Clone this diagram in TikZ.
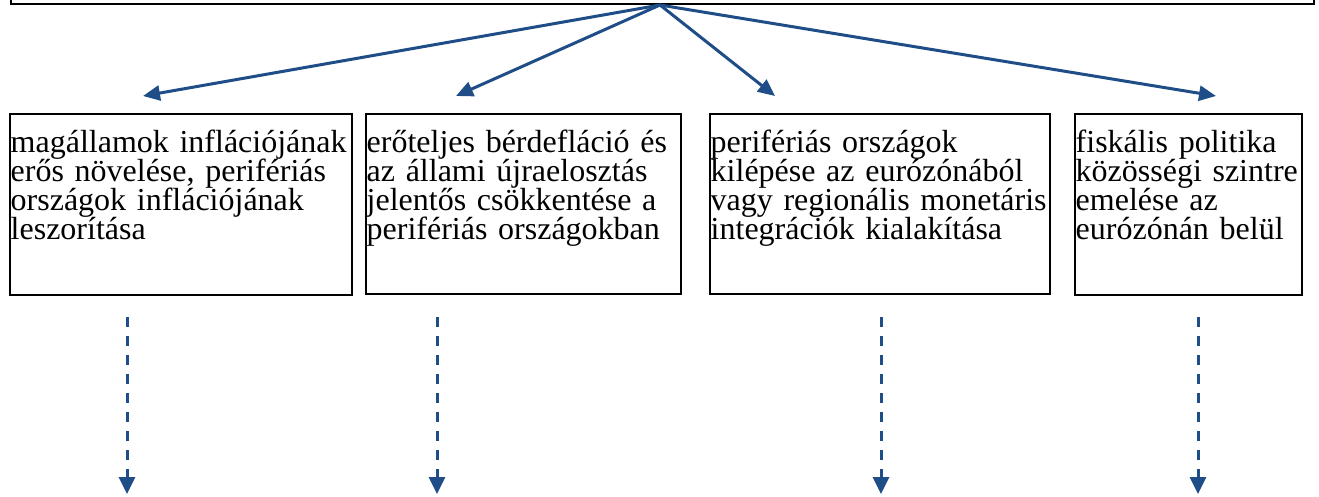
\documentclass[tikz,border=0pt]{standalone}
\usepackage{fontspec}
\setmainfont{Liberation Serif}
\usetikzlibrary{arrows.meta}
\definecolor{linkblue}{RGB}{31,77,135}
% fixed line pitch, no extra skip between crowded lines
\protected\def\tightlines{\lineskiplimit=-100pt\relax\lineskip=0pt\relax}
\begin{document}
\begin{tikzpicture}[x=1pt,y=-1pt,
  frame/.style={draw=black, line width=1.6pt, inner sep=0pt, anchor=north west},
  label/.style={anchor=base west, inner sep=0pt, align=left,
    font=\fontsize{32}{29}\selectfont\tightlines},
  link/.style={draw=linkblue, line width=3pt,
    -{Triangle[length=17pt,width=15pt]}},
  follow/.style={draw=linkblue, line width=3pt, dash pattern=on 10pt off 9pt,
    -{Triangle[length=17pt,width=16pt]}}]
\useasboundingbox (0,0) rectangle (1319,496);
\clip (0,0) rectangle (1319,496);

% heading box, only its lower edge is on the page
\node[draw=black, line width=2.2pt, inner sep=0pt, anchor=south west,
  minimum width=1303pt, minimum height=40pt] (head) at (10,5) {};
\coordinate (apex) at (660,5);

% the four options
\node[frame, minimum width=342pt, minimum height=181pt] (b1) at (9,113) {};
\node[frame, minimum width=315pt, minimum height=180pt] (b2) at (365,113) {};
\node[frame, minimum width=340pt, minimum height=180pt] (b3) at (709,113) {};
\node[frame, minimum width=227pt, minimum height=181pt] (b4) at (1074,113) {};

\node[label, text width=338pt] (t1) at (10.5,152.5) {magállamok inflációjának\\erős növelése, perifériás\\országok inflációjának\\leszorítása};
\node[label, text width=312pt] (t2) at (366.5,152.5) {erőteljes bérdefláció és\\az állami újraelosztás\\jelentős csökkentése a\\perifériás országokban};
\node[label, text width=336pt] (t3) at (710.5,152.5) {perifériás országok\\kilépése az eurózónából\\vagy regionális monetáris\\integrációk kialakítása};
\node[label, text width=224pt] (t4) at (1075.5,152.5) {fiskális politika\\közösségi szintre\\emelése az\\eurózónán belül};

% arrow tips above the boxes
\coordinate (in1) at (143,96);
\coordinate (in2) at (456,96);
\coordinate (in3) at (775,96);
\coordinate (in4) at (1216,96);

\draw[link] (apex) -- (in1);
\draw[link] (apex) -- (in2);
\draw[link] (apex) -- (in3);
\draw[link] (apex) -- (in4);

% dashed continuations below the boxes
\coordinate (s1) at (127,317);  \coordinate (e1) at (127,494);
\coordinate (s2) at (437,317);  \coordinate (e2) at (437,494);
\coordinate (s3) at (881,317);  \coordinate (e3) at (881,494);
\coordinate (s4) at (1198,317); \coordinate (e4) at (1198,494);

\draw[follow] (s1) -- (e1);
\draw[follow] (s2) -- (e2);
\draw[follow] (s3) -- (e3);
\draw[follow] (s4) -- (e4);
\end{tikzpicture}
\end{document}
